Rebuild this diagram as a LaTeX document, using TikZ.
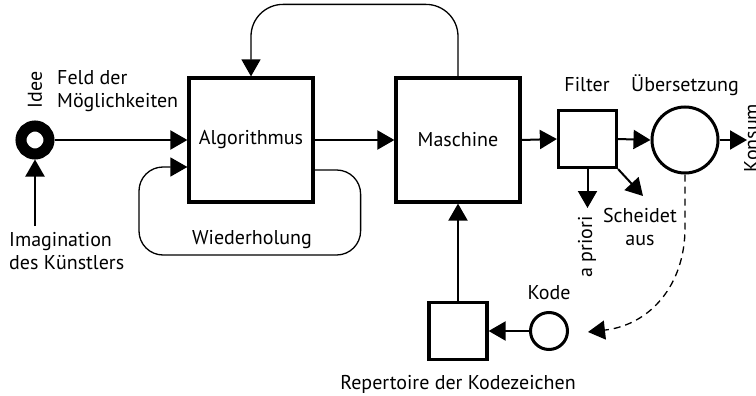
\documentclass[tikz,border=0pt]{standalone}
\usepackage{fontspec}
\setmainfont{PT Sans}
\usetikzlibrary{arrows.meta,calc}
\tikzset{
  box/.style={draw, line width=3.2pt, minimum width=124pt, minimum height=124pt, inner sep=0pt},
  smallbox/.style={draw, line width=3.2pt, minimum width=58pt, minimum height=57pt, inner sep=0pt},
  ring/.style={draw, circle, line width=3pt, inner sep=0pt},
  flow/.style={line width=2pt, -{Triangle[length=17pt,width=19pt]}},
  loop/.style={line width=1.3pt, rounded corners=24pt},
  lbl/.style={font=\fontsize{20}{23}\selectfont, inner sep=0pt},
}
\begin{document}
\begin{tikzpicture}[x=1pt,y=-1pt]
\useasboundingbox (0,0) rectangle (756,396);
% main blocks
\node[box, lbl] (alg) at (251,140) {Algorithmus};
\node[box, lbl] (mas) at (458,140) {Maschine};
\node[smallbox] (fil) at (587.5,139) {};
\node[ring, minimum size=66pt] (ueb) at (685,140) {};
\node[smallbox] (rep) at (458,331) {};
\node[ring, minimum size=37pt] (kode) at (549,331) {};
\node[draw, circle, line width=11pt, minimum size=28pt, inner sep=0pt] (idee) at (35,140) {};
% free ends
\coordinate (imag) at (35,226);
\coordinate (kons) at (747,140);
\coordinate (apri) at (587.5,208);
\coordinate (scheid) at (643,196);
\coordinate (dashend) at (588,332);
% connectors
\draw[flow] (idee.east) -- (alg.west);
\draw[flow] (imag) -- (idee.south);
\draw[flow] (alg.east) -- (mas.west);
\draw[flow] (mas.east) -- (fil.west);
\draw[flow] (fil.east) -- (ueb.west);
\draw[flow] (ueb.east) -- (kons);
\draw[flow] (fil.south) -- (apri);
\draw[flow] (fil.south east) -- (scheid);
\draw[flow] (rep.north) -- (mas.south);
\draw[flow] (kode.west) -- (rep.east);
% feedback from machine to algorithm
\draw[loop, rounded corners=32pt, -{Triangle[length=17pt,width=19pt]}]
  (mas.north) -- ++(0,-72) -| (alg.north);
% repetition loop
\draw[loop, -{Triangle[length=17pt,width=19pt]}]
  ([yshift=-30pt]alg.east) -- ++(46,0) -- ++(0,85) -- (139,255) |- ([yshift=-27pt]alg.west);
% translation back to code
\draw[line width=1.3pt, dash pattern=on 7pt off 5pt, -{Triangle[length=17pt,width=19pt]}]
  (ueb.south) -- (685,228) .. controls (685,285) and (650,325) .. (dashend);
% labels
\node[lbl, rotate=90] (tidee) at (35,90) {Idee};
\node[lbl, align=left, anchor=west] (tfeld) at (57,91.5) {Feld der\\Möglichkeiten};
\node[lbl, align=left, anchor=west] (timag) at (9,251.5) {Imagination\\des Künstlers};
\node[lbl] (twied) at (252,240) {Wiederholung};
\node[lbl] (tfil) at (587,85) {Filter};
\node[lbl] (tueb) at (685,85) {Übersetzung};
\node[lbl, rotate=90, anchor=north] (tkons) at (744,138) {Konsum};
\node[lbl, rotate=90] (tapri) at (587,247) {a priori};
\node[lbl, align=center] (tsch) at (640,226.5) {Scheidet\\aus};
\node[lbl] (tkode) at (549,293) {Kode};
\node[lbl] (trep) at (458,384) {Repertoire der Kodezeichen};
\end{tikzpicture}
\end{document}
